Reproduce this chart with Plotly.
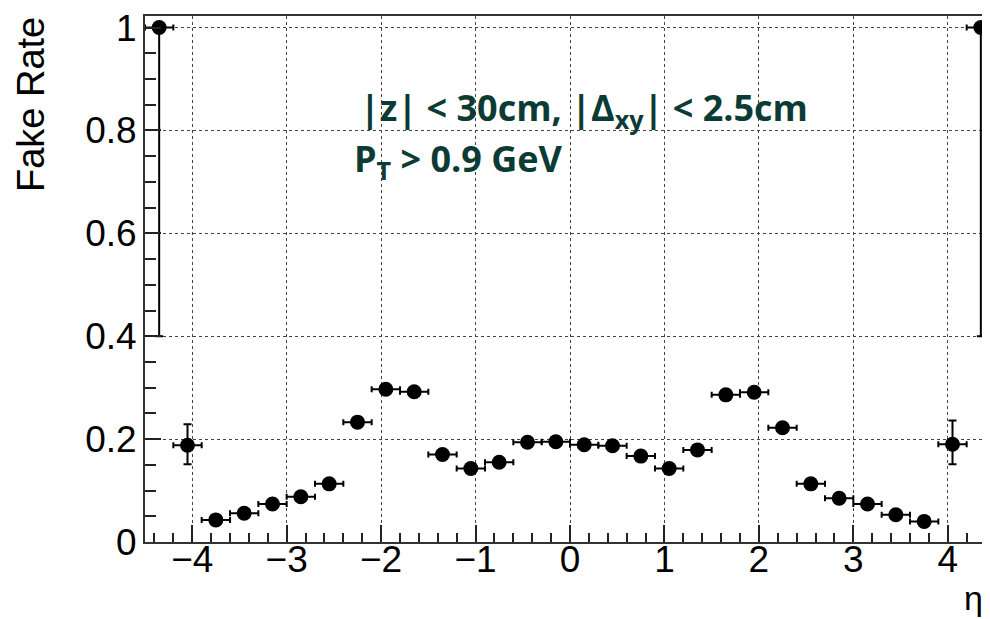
import plotly.graph_objects as go

# Bin centres in eta (bin width 0.3)
eta = [-4.35, -4.05, -3.75, -3.45, -3.15, -2.85, -2.55, -2.25, -1.95, -1.65,
       -1.35, -1.05, -0.75, -0.45, -0.15, 0.15, 0.45, 0.75, 1.05, 1.35,
       1.65, 1.95, 2.25, 2.55, 2.85, 3.15, 3.45, 3.75, 4.05, 4.35]
fake_rate = [1.0, 0.188, 0.043, 0.056, 0.074, 0.088, 0.113, 0.233, 0.297, 0.292,
             0.170, 0.143, 0.155, 0.194, 0.195, 0.189, 0.187, 0.167, 0.143, 0.179,
             0.286, 0.291, 0.222, 0.113, 0.085, 0.074, 0.053, 0.040, 0.190, 1.0]
err_up = [0.0, 0.041, 0.004, 0.004, 0.004, 0.004, 0.005, 0.006, 0.006, 0.006,
          0.005, 0.005, 0.005, 0.005, 0.005, 0.005, 0.005, 0.005, 0.005, 0.005,
          0.006, 0.006, 0.006, 0.005, 0.004, 0.004, 0.004, 0.004, 0.046, 0.0]
err_down = [0.6, 0.037, 0.004, 0.004, 0.004, 0.004, 0.005, 0.006, 0.006, 0.006,
            0.005, 0.005, 0.005, 0.005, 0.005, 0.005, 0.005, 0.005, 0.005, 0.005,
            0.006, 0.006, 0.006, 0.005, 0.004, 0.004, 0.004, 0.004, 0.039, 0.6]
half_bin = [0.15] * len(eta)

x_ticks = [-4, -3, -2, -1, 0, 1, 2, 3, 4]
y_ticks = [0, 0.2, 0.4, 0.6, 0.8, 1]
y_tick_text = ["0", "0.2", "0.4", "0.6", "0.8", "1"]

W, H = 990, 619
OFF = 8  # page body margin
L, T = 137, 8
PW = 850.5
R = W - L - PW
B = H - (542 - OFF)
PH = H - T - B

def px_x(p):
    return (p - OFF - L) / PW

def px_y(p):
    return (H - B - (p - OFF)) / PH

fig = go.Figure()
fig.add_trace(go.Scatter(
    x=eta, y=fake_rate, mode="markers",
    marker=dict(color="black", size=15, symbol="circle"),
    error_x=dict(type="data", array=half_bin, color="black", thickness=2, width=3),
    error_y=dict(type="data", symmetric=False, array=err_up, arrayminus=err_down,
                 color="black", thickness=2, width=4),
    cliponaxis=False, showlegend=False,
))

tick_font = dict(family="Liberation Sans, Arial, sans-serif", size=37, color="black")
title_font = dict(family="Liberation Sans, Arial, sans-serif", size=38, color="black")
eta_font = dict(family="Liberation Sans, Arial, sans-serif", size=34, color="black")
txt_font = dict(family="Open Sans, sans-serif", size=36, color="#0c3b35")

fig.update_layout(
    width=W, height=H,
    margin=dict(l=L, r=R, t=T, b=B, pad=0, autoexpand=False),
    plot_bgcolor="white", paper_bgcolor="white",
    xaxis=dict(
        range=[-4.5, 4.5],
        tickmode="array", tickvals=x_ticks,
        ticks="inside", ticklen=17, tickwidth=2, tickcolor="#222",
        minor=dict(dtick=0.2, tick0=0, ticks="inside", ticklen=9, tickwidth=1.5,
                   tickcolor="#222", showgrid=False),
        showline=True, linecolor="#333", linewidth=2, mirror=True,
        showgrid=True, gridcolor="#444", griddash="dot", gridwidth=1,
        zeroline=False, tickfont=tick_font, ticklabelstandoff=-16,
        ticklabeloverflow="allow", automargin=False,
    ),
    yaxis=dict(
        range=[0, 1.0225],
        tickmode="array", tickvals=y_ticks, ticktext=y_tick_text,
        ticks="inside", ticklen=16, tickwidth=2, tickcolor="#222",
        minor=dict(dtick=0.05, tick0=0, ticks="inside", ticklen=11, tickwidth=1.5,
                   tickcolor="#222", showgrid=False),
        showline=True, linecolor="#333", linewidth=2, mirror=False,
        showgrid=True, gridcolor="#444", griddash="dot", gridwidth=1,
        zeroline=False, tickfont=tick_font, ticklabelstandoff=-1,
        ticklabeloverflow="allow", automargin=False,
    ),
    annotations=[
        dict(text="Fake Rate", textangle=-90, xref="paper", yref="paper",
             x=px_x(31), y=px_y(105), xanchor="center", yanchor="middle",
             showarrow=False, font=title_font),
        dict(text="η", xref="paper", yref="paper",
             x=px_x(962), y=px_y(598), xanchor="left", yanchor="middle",
             showarrow=False, font=eta_font),
        dict(text="<b>|z| < 30cm, |Δ<sub>xy</sub>| < 2.5cm</b>", xref="paper", yref="paper",
             x=px_x(358), y=px_y(110), xanchor="left", yanchor="middle",
             showarrow=False, font=txt_font),
        dict(text="<b>P<sub>T</sub> > 0.9 GeV</b>", xref="paper", yref="paper",
             x=px_x(352), y=px_y(161), xanchor="left", yanchor="middle",
             showarrow=False, font=txt_font),
    ],
)

fig.write_html("out.html")
